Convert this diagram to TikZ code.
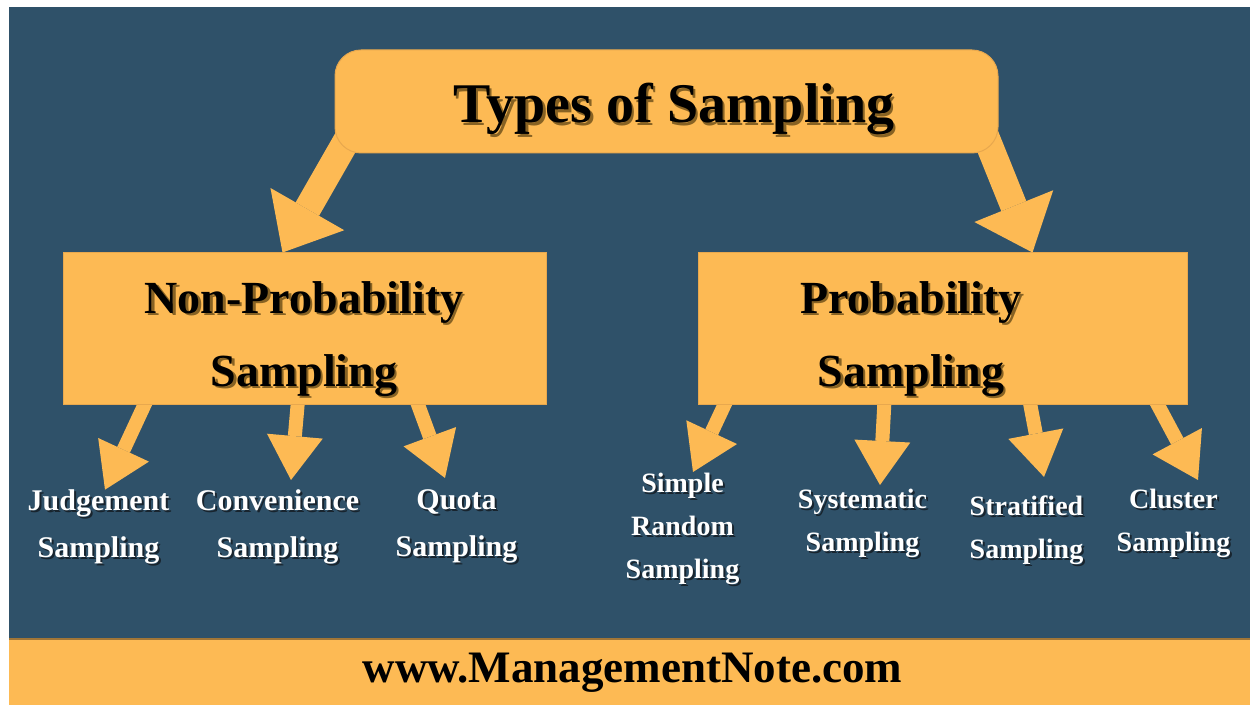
\documentclass[tikz,border=0pt]{standalone}
\usepackage{fontspec}
\setmainfont{Liberation Serif}
\usetikzlibrary{arrows.meta,calc}

\definecolor{slate}{RGB}{47,81,105}
\definecolor{amber}{RGB}{253,186,84}
\definecolor{amberedge}{RGB}{232,168,78}
\definecolor{brownshade}{RGB}{135,98,35}
\definecolor{inkshade}{RGB}{24,36,46}

\pgfdeclarelayer{backdrop}
\pgfdeclarelayer{links}
\pgfsetlayers{backdrop,links,main}

% text with a small drop shadow: colour, offset, text
\newcommand\withshadow[3]{\rlap{\textcolor{#1}{\kern#2\raisebox{-#2}{#3}}}#3}
\newcommand\boxline[1]{\withshadow{brownshade}{1.2pt}{#1}}
\newcommand\leafline[1]{\withshadow{inkshade}{1pt}{#1}}

\begin{document}
\begin{tikzpicture}[x=0.5pt,y=-0.5pt,
  panel/.style={fill=amber, draw=amberedge, line width=0.5pt, inner sep=0pt},
  headtext/.style={text=black, inner sep=0pt, font=\fontsize{28}{34}\selectfont\bfseries},
  boxtext/.style={text=black, inner sep=0pt, align=center, anchor=north,
    font=\fontsize{23}{36.5}\selectfont\bfseries},
  leafL/.style={text=white, inner sep=0pt, align=center, anchor=north,
    font=\fontsize{15}{23.5}\selectfont\bfseries},
  leafR/.style={leafL, font=\fontsize{14}{21.5}\selectfont\bfseries},
  bigarrow/.style={amber, line width=13.5pt,
    -{Triangle[length=25pt,width=42.5pt,line width=0pt]}},
  smallarrow/.style={amber, line width=7pt,
    -{Triangle[length=22pt,width=28pt,line width=0pt]}},
]
\useasboundingbox (0,0) rectangle (1250,705);

% boxes
\node[panel, rounded corners=13pt, minimum width=331.5pt, minimum height=51.5pt] (root) at (666.5,101.5) {};
\node[panel, minimum width=241.5pt, minimum height=76pt] (np) at (304.5,329) {};
\node[panel, minimum width=244.5pt, minimum height=76pt] (pr) at (942.5,329) {};

% headings
\node[headtext, anchor=base] (rootlabel) at (674,123) {\boxline{Types of Sampling}};
\node[boxtext] (nplabel) at (304,281) {\boxline{Non-Probability}\\\boxline{Sampling}};
\node[boxtext] (prlabel) at (911,281) {\boxline{Probability}\\\boxline{Sampling}};

% leaf labels
\node[leafL] (judg)  at (98.5,489.7)  {\leafline{Judgement}\\\leafline{Sampling}};
\node[leafL] (conv)  at (277.5,489.7) {\leafline{Convenience}\\\leafline{Sampling}};
\node[leafL] (quota) at (456.5,489.7) {\leafline{Quota}\\\leafline{Sampling}};
\node[leafR] (simple) at (682.5,473)  {\leafline{Simple}\\\leafline{Random}\\\leafline{Sampling}};
\node[leafR] (syst)   at (862.5,489)  {\leafline{Systematic}\\\leafline{Sampling}};
\node[leafR] (strat)  at (1026.5,495.5) {\leafline{Stratified}\\\leafline{Sampling}};
\node[leafR] (clust)  at (1173.5,489) {\leafline{Cluster}\\\leafline{Sampling}};

% footer text
\node[text=black, inner sep=0pt, anchor=base, font=\fontsize{22.5}{27}\selectfont\bfseries]
  (site) at (632.5,683) {www.ManagementNote.com};

% background and footer band
\begin{pgfonlayer}{backdrop}
  \fill[white] (0,0) rectangle (1250,705);
  \fill[slate] (9,7) rectangle (1250,639);
  \fill[amber] (9,639) rectangle (1250,705);
  \draw[amberedge!70!black, line width=0.6pt] (9,639) -- (1250,639);
\end{pgfonlayer}

% connectors
\begin{pgfonlayer}{links}
  \draw[bigarrow] ($(root.south west)+(15,-18)$) -- ($(np.north west)+(220,0)$);
  \draw[bigarrow] ($(root.south east)+(-16,-25)$) -- ($(pr.north west)+(335,0)$);

  \draw[smallarrow] ($(np.south west)+(84,-5)$)    -- ($(judg.north)+(6.5,0)$);
  \draw[smallarrow] ($(np.south west)+(235.5,-5)$) -- ($(conv.north)+(13.5,-9.7)$);
  \draw[smallarrow] ($(np.south west)+(354,-5)$)   -- ($(quota.north)+(-11.5,-11.7)$);

  \draw[smallarrow] ($(pr.south west)+(29,-5)$)  -- ($(simple.north)+(10.5,-1)$);
  \draw[smallarrow] ($(pr.south west)+(187,-5)$) -- ($(syst.north)+(17.5,-4)$);
  \draw[smallarrow] ($(pr.south west)+(332,-5)$) -- ($(strat.north)+(17.5,-18.6)$);
  \draw[smallarrow] ($(pr.south west)+(458,-5)$) -- ($(clust.north)+(24.5,-9)$);
\end{pgfonlayer}
\end{tikzpicture}
\end{document}
